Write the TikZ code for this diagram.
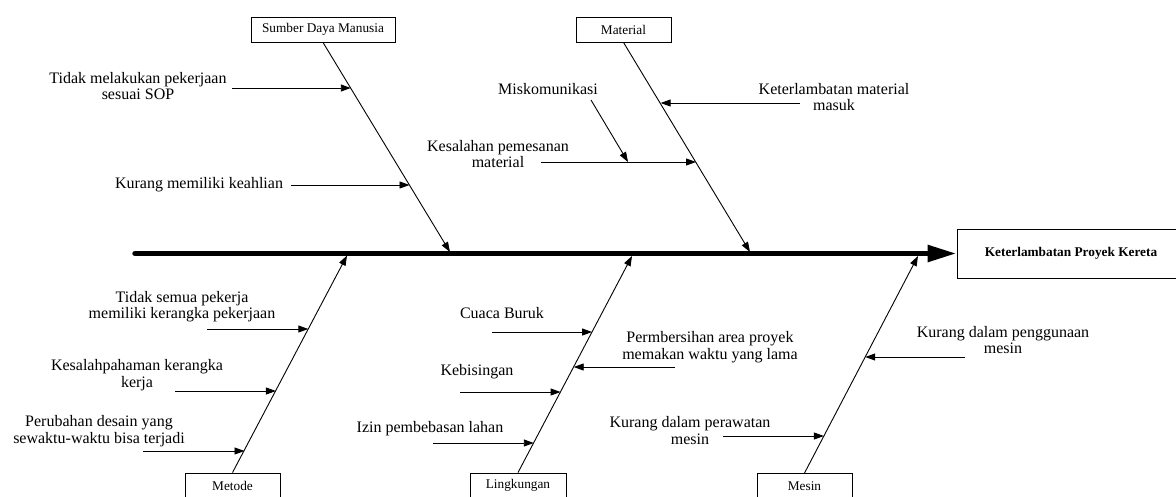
\documentclass[tikz,border=0pt]{standalone}
\usepackage{fontspec}
\setmainfont{Liberation Serif}
\usetikzlibrary{arrows.meta}
\begin{document}
\begin{tikzpicture}[x=1pt,y=-1pt,
  catbox/.style={draw, line width=0.9pt, inner sep=0pt, minimum height=25pt, font=\fontsize{13.3}{15}\selectfont},
  cause/.style={align=center, inner sep=0pt, font=\fontsize{16}{16.5}\selectfont},
  bone/.style={line width=0.9pt, -{Triangle[length=10pt,width=7pt]}},
  sub/.style={line width=0.9pt, -{Triangle[length=10pt,width=7pt]}},
  spine/.style={line width=5.5pt, line cap=round, -{Triangle[length=29pt,width=16pt]}}]
\useasboundingbox (0,0) rectangle (1176,496);
\fill[white] (0,0) rectangle (1176,496);

% effect
\node[draw, line width=0.9pt, minimum width=228pt, minimum height=49pt, inner sep=0pt,
  font=\bfseries\fontsize{13.3}{15}\selectfont] (eff) at (1071,253.5) {Keterlambatan Proyek Kereta};

% spine
\coordinate (sp0) at (135,253.5);
\draw[spine] (sp0) -- (eff.west);

% category boxes
\node[catbox, minimum width=144pt] (sdm) at (323,29.5) {Sumber Daya Manusia};
\node[catbox, minimum width=95pt] (mat) at (623.5,29.5) {Material};
\node[catbox, minimum width=95pt] (met) at (232.5,485.5) {Metode};
\node[catbox, minimum width=96pt] (lin) at (518,485.5) {Lingkungan};
\node[catbox, minimum width=95pt] (mes) at (804.5,486) {Mesin};

% bone ends on spine
\coordinate (s1) at (450,252);
\coordinate (s2) at (750,252);
\coordinate (s3) at (347,255.5);
\coordinate (s4) at (632,256);
\coordinate (s5) at (918,256);

\draw[bone] (sdm.south) -- (s1);
\draw[bone] (mat.south) -- (s2);
\draw[bone] (met.north) -- (s3);
\draw[bone] (lin.north) -- (s4);
\draw[bone] (mes.north) -- (s5);

% cause labels
\node[cause] (c1) at (138,86) {Tidak melakukan pekerjaan\\sesuai SOP};
\node[cause] (c2) at (199,185) {Kurang memiliki keahlian};
\node[cause] (c3) at (548,89) {Miskomunikasi};
\node[cause] (c4) at (498,154) {Kesalahan pemesanan\\material};
\node[cause] (c5) at (834,97) {Keterlambatan material\\masuk};
\node[cause] (c6) at (182,306.5) {Tidak semua pekerja\\memiliki kerangka pekerjaan};
\node[cause] (c7) at (137,375) {Kesalahpahaman kerangka\\kerja};
\node[cause] (c8) at (99,431) {Perubahan desain yang\\sewaktu-waktu bisa terjadi};
\node[cause] (c9) at (502,313) {Cuaca Buruk};
\node[cause] (c10) at (710,347) {Permbersihan area proyek\\memakan waktu yang lama};
\node[cause] (c11) at (477,372) {Kebisingan};
\node[cause] (c12) at (430,429) {Izin pembebasan lahan};
\node[cause] (c13) at (1003,340) {Kurang dalam penggunaan\\mesin};
\node[cause] (c14) at (690,430.5) {Kurang dalam perawatan\\mesin};

% cause arrows: start and tip coordinates
\coordinate (a1s) at (232,88);   \coordinate (a1t) at (350.8,88);
\coordinate (a2s) at (291,185);  \coordinate (a2t) at (409.5,185);
\coordinate (a3s) at (800,103);  \coordinate (a3t) at (660.6,103);
\coordinate (a4s) at (541,162);  \coordinate (a4t) at (696,162);
\coordinate (a5s) at (591,100);  \coordinate (a5t) at (628,162);
\coordinate (a6s) at (207,329);  \coordinate (a6t) at (308.3,329);
\coordinate (a7s) at (175,391);  \coordinate (a7t) at (275.9,391);
\coordinate (a8s) at (143,451);  \coordinate (a8t) at (244.5,451);
\coordinate (a9s) at (492,332);  \coordinate (a9t) at (592.1,332);
\coordinate (a10s) at (675,367); \coordinate (a10t) at (573.7,367);
\coordinate (a11s) at (460,392); \coordinate (a11t) at (560.6,392);
\coordinate (a12s) at (433,443); \coordinate (a12t) at (533.8,443);
\coordinate (a13s) at (965,357); \coordinate (a13t) at (865.2,357);
\coordinate (a14s) at (723,436); \coordinate (a14t) at (823.9,436);

\foreach \i in {1,...,14} { \draw[sub] (a\i s) -- (a\i t); }
\end{tikzpicture}
\end{document}
